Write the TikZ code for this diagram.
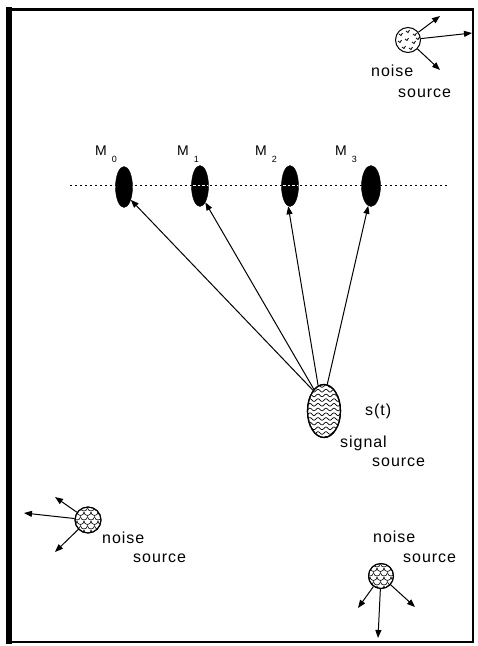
\documentclass[tikz,border=0pt]{standalone}
\usepackage{fontspec}
\setmainfont{Liberation Sans}[LetterSpace=6]
\usetikzlibrary{shapes.geometric,arrows.meta}
\begin{document}
\begin{tikzpicture}[x=1pt,y=-1pt,
  arr/.style={-{Triangle[length=8pt,width=6pt]}, line width=1pt},
  mic/.style={ellipse, fill=black, draw=black, inner sep=0pt, minimum width=17pt, minimum height=41pt},
  noisesrc/.style={circle, draw=black, line width=1pt, inner sep=0pt, minimum size=25pt},
  lab/.style={anchor=base west, inner sep=0pt, font=\fontsize{16}{16}\selectfont},
  mlab/.style={anchor=base west, inner sep=0pt, font=\fontsize{14}{14}\selectfont},
  scale line/.style={line width=0.6pt}]
\useasboundingbox (0,0) rectangle (478,646);
% frame
\draw[line width=2.5pt] (9,9.5) rectangle (473,642);
\draw[line width=6pt] (8.5,7) -- (8.5,644);
% dotted line
\coordinate (dl) at (70,185);
\coordinate (dr) at (448,185);
\draw[line width=1pt, dash pattern=on 2pt off 3pt] (dl) -- (dr);
% microphones
\node[mic] (m0) at (124,187) {};
\node[mic] (m1) at (200,186) {};
\node[mic] (m2) at (290,186) {};
\node[mic, minimum width=19pt] (m3) at (371,186) {};
\draw[white, line width=1pt, dash pattern=on 2.5pt off 2pt] (193,185) -- (208,185);
\draw[white, line width=1pt, dash pattern=on 2.5pt off 2pt] (283,185) -- (298,185);
% mic labels
\node[mlab] (l0) at (95,155) {M\hspace{5pt}\raisebox{-7pt}{\fontsize{9}{9}\selectfont 0}};
\node[mlab] (l1) at (177,155) {M\hspace{5pt}\raisebox{-7pt}{\fontsize{9}{9}\selectfont 1}};
\node[mlab] (l2) at (255,155) {M\hspace{5pt}\raisebox{-7pt}{\fontsize{9}{9}\selectfont 2}};
\node[mlab] (l3) at (335,155) {M\hspace{5pt}\raisebox{-7pt}{\fontsize{9}{9}\selectfont 3}};
% signal source
\node[ellipse, draw=black, line width=1.2pt, inner sep=0pt, minimum width=33pt, minimum height=53pt] (sig) at (324,411) {};
\begin{scope}
\clip (324,411) ellipse [x radius=16.5, y radius=26.5];
\foreach \r in {0,...,11}
  \draw[line width=0.7pt, domain=305:345, samples=80, smooth] plot (\x, {386+\r*4.7 + 1.3*sin(\x*45)});
\end{scope}
\draw[line width=1.2pt] (324,411) ellipse [x radius=16.5, y radius=26.5];
\draw[arr] (sig.118) -- (m0.-62);
\draw[arr] (sig.115) -- (m1.-72);
\draw[arr] (sig.103) -- (m2.-95);
\draw[arr] (sig.83) -- (m3.-98);
\node[lab] (st) at (365,415) {s(t)};
\node[lab] (sg1) at (340,447) {signal};
\node[lab] (sg2) at (372,466) {source};
% top-right noise source (speckled)
\node[noisesrc] (nt) at (408,40) {};
\foreach \p/\q in {399/34, 406/31, 413/34, 398/41, 405/39, 412/42, 402/47, 409/48, 416/38}
  \draw[line width=0.8pt] (\p,\q) -- ++(2,1.5) -- ++(1.5,-2.5);
\coordinate (nt1) at (440,16);
\coordinate (nt2) at (472,33);
\coordinate (nt3) at (440,70);
\draw[arr] (nt) -- (nt1);
\draw[arr] (nt) -- (nt2);
\draw[arr] (nt) -- (nt3);
\node[lab] (ntw1) at (371,76) {noise};
\node[lab] (ntw2) at (398,97) {source};
% left noise source (scales)
\node[noisesrc, minimum size=26pt] (nl) at (88,520) {};
\begin{scope}
\clip (88,520) circle (13);
\foreach \j in {0,...,7} \foreach \i in {0,...,5}
  \draw[scale line] ({70+\i*7+mod(\j,2)*3.5}, {503+\j*4.5}) arc[start angle=180,end angle=0,radius=3.5];
\end{scope}
\draw[line width=1pt] (88,520) circle (13);
\coordinate (nl1) at (55,497);
\coordinate (nl2) at (24,513);
\coordinate (nl3) at (55,552);
\draw[arr] (nl) -- (nl1);
\draw[arr] (nl) -- (nl2);
\draw[arr] (nl) -- (nl3);
\node[lab] (nlw1) at (102,543) {noise};
\node[lab] (nlw2) at (133,562) {source};
% bottom-right noise source (scales)
\node[noisesrc] (nb) at (381,576) {};
\begin{scope}
\clip (381,576) circle (12.5);
\foreach \j in {0,...,7} \foreach \i in {0,...,5}
  \draw[scale line] ({363+\i*7+mod(\j,2)*3.5}, {559+\j*4.5}) arc[start angle=180,end angle=0,radius=3.5];
\end{scope}
\draw[line width=1pt] (381,576) circle (12.5);
\coordinate (nb1) at (358,608);
\coordinate (nb2) at (378,638);
\coordinate (nb3) at (415,607);
\draw[arr] (nb) -- (nb1);
\draw[arr] (nb) -- (nb2);
\draw[arr] (nb) -- (nb3);
\node[lab] (nbw1) at (373,542) {noise};
\node[lab] (nbw2) at (403,562) {source};
\end{tikzpicture}
\end{document}
